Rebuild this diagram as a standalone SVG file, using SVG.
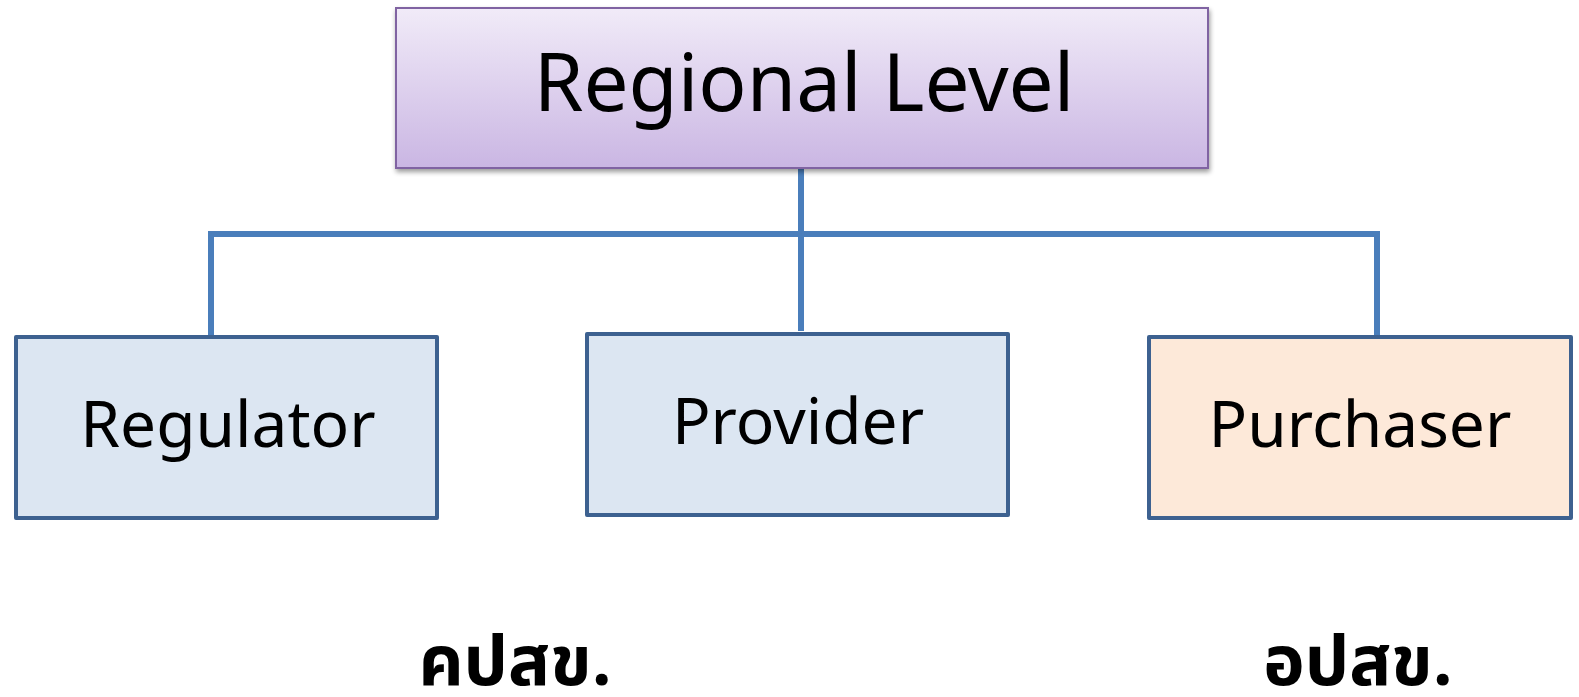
<svg xmlns="http://www.w3.org/2000/svg" width="1579" height="697" viewBox="0 0 1579 697">
<defs>
<linearGradient id="purp" x1="0" y1="0" x2="0" y2="1">
<stop offset="0" stop-color="#F1EBF8"/>
<stop offset="1" stop-color="#CAB6E3"/>
</linearGradient>
<filter id="sh" x="-5%" y="-10%" width="110%" height="130%">
<feGaussianBlur in="SourceAlpha" stdDeviation="2.5"/>
<feOffset dx="1" dy="3" result="b"/>
<feComponentTransfer><feFuncA type="linear" slope="0.4"/></feComponentTransfer>
<feMerge><feMergeNode/><feMergeNode in="SourceGraphic"/></feMerge>
</filter>
</defs>
<style>
.box{stroke:#3D6190;stroke-width:4;stroke-linejoin:round}
.blue{fill:#DCE6F2}
.peach{fill:#FDE9D9}
.conn{stroke:#4A7EBB;stroke-width:6;fill:none}
.lbl{font-family:"Noto Sans","Open Sans","DejaVu Sans",sans-serif;fill:#000;text-anchor:middle}
.th{font-family:"Noto Sans Thai","Noto Sans","DejaVu Sans",sans-serif;font-weight:bold;fill:#000;text-anchor:middle;font-size:70px}
</style>
<rect width="1579" height="697" fill="#fff"/>
<g id="connectors">
<path class="conn" d="M801 166 V331"/>
<path class="conn" d="M211 335 V234 H1377 V335"/>
</g>
<g id="regional">
<rect x="396" y="8" width="812" height="160" fill="url(#purp)" stroke="#8064A2" stroke-width="2" filter="url(#sh)"/>
<text class="lbl" x="804" y="111" font-size="80">Regional Level</text>
</g>
<g id="regulator">
<rect class="box blue" x="16" y="337" width="421" height="181"/>
<text class="lbl" x="228" y="447" font-size="64">Regulator</text>
</g>
<g id="provider">
<rect class="box blue" x="587" y="334" width="421" height="181"/>
<text class="lbl" x="798" y="444" font-size="64">Provider</text>
</g>
<g id="purchaser">
<rect class="box peach" x="1149" y="337" width="422" height="181"/>
<text class="lbl" x="1360" y="447" font-size="64">Purchaser</text>
</g>
<g id="thai-labels">
<text class="th" x="515" y="685">คปสข.</text>
<text class="th" x="1358" y="685">อปสข.</text>
</g>
</svg>
